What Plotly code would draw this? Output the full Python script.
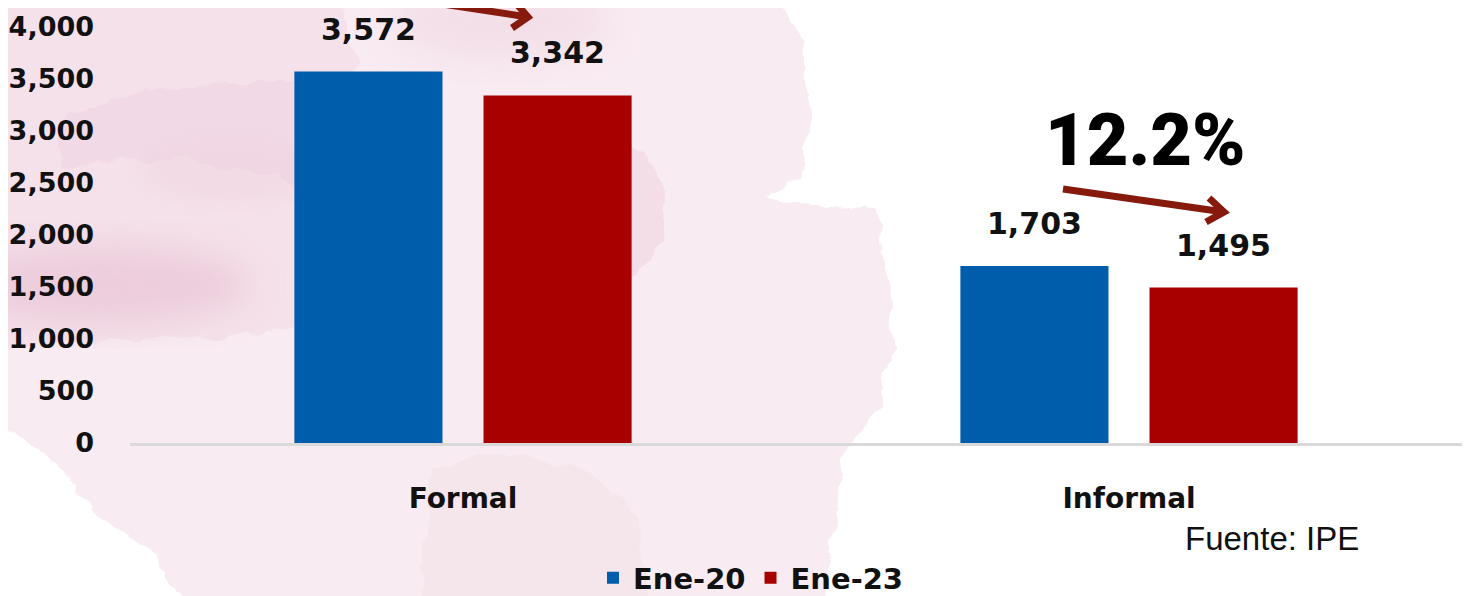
import base64
import plotly.graph_objects as go

# ---------------- data ----------------
categories = ["Formal", "Informal"]
series_names = ["Ene-20", "Ene-23"]
ene20 = [3572, 1703]
ene23 = [3342, 1495]
y_ticks = [0, 500, 1000, 1500, 2000, 2500, 3000, 3500, 4000]
change_label = "12.2%"
source_label = "Fuente: IPE"

# ---------------- style ----------------
OFF = 8                      # page body margin in the browser
W, H = 1471 - OFF, 596 - OFF
ML, MR, MT, MB = 122, 9, 19, 153
PW, PH = W - ML - MR, H - MT - MB
BARGAP, GROUPGAP = 0.432, 0.217
BLUE, RED = "#005dab", "#a80000"
ARROW = "#861a0c"
FONT = "DejaVu Sans"


def px(x):  # screen x -> paper
    return (x - OFF - ML) / PW


def py(y):  # screen y -> paper
    return (H - MB - (y - OFF)) / PH


# watercolor background (decorative), drawn in screen coordinates
SW, SH = 1471, 596
svg = f'''<svg xmlns="http://www.w3.org/2000/svg" width="{SW}" height="{SH}" viewBox="0 0 {SW} {SH}">
<defs>
<filter id="w" x="-10%" y="-10%" width="120%" height="120%">
<feTurbulence type="fractalNoise" baseFrequency="0.03" numOctaves="4" seed="7" result="n"/>
<feDisplacementMap in="SourceGraphic" in2="n" scale="18" xChannelSelector="R" yChannelSelector="G" result="d"/>
<feGaussianBlur in="d" stdDeviation="0.6"/>
</filter>
<filter id="b" x="-30%" y="-30%" width="160%" height="160%"><feGaussianBlur stdDeviation="18"/></filter>
<filter id="b2" x="-30%" y="-30%" width="160%" height="160%"><feGaussianBlur stdDeviation="8"/></filter>
</defs>
<g filter="url(#w)">
<path d="M-20,-20 L770,-20 L803,40 L812,110 L800,180 L765,195 L800,205 L877,210 L885,260 L893,350 L880,400 L845,460 L835,520 L825,620 L195,620 L150,552 L100,518 L60,468 L-20,410 Z" fill="#f8ebf1"/>
<path d="M-20,-20 L330,-20 L360,60 L330,200 L300,330 L-20,350 Z" fill="#f4e0e9" opacity="0.9"/>
<path d="M60,120 C160,80 260,70 330,90 L330,200 C250,160 150,150 60,170 Z" fill="#f0d6e2" opacity="0.7"/>
<path d="M560,130 C610,120 650,150 665,200 C670,240 650,270 620,280 C600,230 580,180 560,130 Z" fill="#f1d8e3" opacity="0.7"/>
<path d="M430,470 C520,440 600,460 640,520 L650,620 L420,620 Z" fill="#f3e2ea" opacity="0.6"/>
</g>
<ellipse cx="100" cy="285" rx="150" ry="40" fill="#e6c0d1" opacity="0.6" filter="url(#b)"/>
<ellipse cx="500" cy="20" rx="110" ry="40" fill="#efd3df" opacity="0.5" filter="url(#b)"/>
<ellipse cx="230" cy="170" rx="90" ry="35" fill="#efd3df" opacity="0.4" filter="url(#b2)"/>
</svg>'''
bg_src = "data:image/svg+xml;base64," + base64.b64encode(svg.encode()).decode()

fig = go.Figure()
fig.add_trace(go.Bar(name=series_names[0], x=categories, y=ene20,
                     marker=dict(color=BLUE, line=dict(width=0))))
fig.add_trace(go.Bar(name=series_names[1], x=categories, y=ene23,
                     marker=dict(color=RED, line=dict(width=0))))

# value labels above bars (positions derived from data + bar geometry)
slot = (1 - BARGAP) / 2
annotations = []
for j, vals in enumerate([ene20, ene23]):
    off = (j - 0.5) * slot
    for i, v in enumerate(vals):
        annotations.append(dict(
            x=i + off, y=v, xref="x", yref="y", text=f"{v:,}", showarrow=False,
            yanchor="bottom", yshift=23,
            font=dict(family=FONT, size=30, color="#111111", weight="bold")))

annotations.append(dict(
    x=px(1145), y=py(140), xref="paper", yref="paper", text=change_label,
    showarrow=False, xanchor="center", yanchor="middle",
    font=dict(family="Roboto", size=72, color="#000000", weight=900)))
annotations.append(dict(
    x=px(1272), y=py(538), xref="paper", yref="paper", text=source_label,
    showarrow=False, xanchor="center", yanchor="middle",
    font=dict(family="Liberation Sans", size=33, color="#111111")))


def arrow_shapes(x0, y0, x1, y1, a1, a2):
    return [
        dict(type="path", xref="paper", yref="paper",
             path=f"M{px(x0)},{py(y0)} L{px(x1)},{py(y1)}",
             line=dict(color=ARROW, width=7)),
        dict(type="path", xref="paper", yref="paper",
             path=f"M{px(a1[0])},{py(a1[1])} L{px(x1)},{py(y1)} L{px(a2[0])},{py(a2[1])}",
             line=dict(color=ARROW, width=7)),
    ]


shapes = []
shapes += arrow_shapes(370, -7, 528, 17, (514, 1), (512, 28))
shapes += arrow_shapes(1063, 189, 1224, 212, (1209, 198), (1206, 222))

fig.update_layout(
    width=W, height=H,
    margin=dict(l=ML, r=MR, t=MT, b=MB, autoexpand=False),
    paper_bgcolor="#ffffff", plot_bgcolor="rgba(0,0,0,0)",
    barmode="group", bargap=BARGAP, bargroupgap=GROUPGAP,
    font=dict(family=FONT, color="#111111"),
    showlegend=True,
    legend=dict(orientation="h", x=px(751), y=py(578), xanchor="center", yanchor="middle",
                font=dict(family=FONT, size=29, color="#111111", weight="bold"),
                bgcolor="rgba(0,0,0,0)", itemclick=False, traceorder="normal"),
    xaxis=dict(showline=True, linecolor="#d9d9d9", linewidth=3, ticks="",
               showgrid=False, zeroline=False, ticklabelstandoff=28, automargin=False,
               tickfont=dict(family=FONT, size=28, color="#111111", weight="bold")),
    yaxis=dict(range=[0, 4000], tickvals=y_ticks, tickformat=",d", showgrid=False,
               zeroline=False, showline=False, ticks="", ticklabelstandoff=35,
               automargin=False,
               tickfont=dict(family=FONT, size=27, color="#111111", weight="bold")),
    annotations=annotations,
    shapes=shapes,
    images=[dict(source=bg_src, xref="paper", yref="paper",
                 x=px(0), y=py(0), sizex=SW / PW, sizey=SH / PH,
                 xanchor="left", yanchor="top", sizing="stretch", layer="below")],
)

fig.write_html("out.html")
